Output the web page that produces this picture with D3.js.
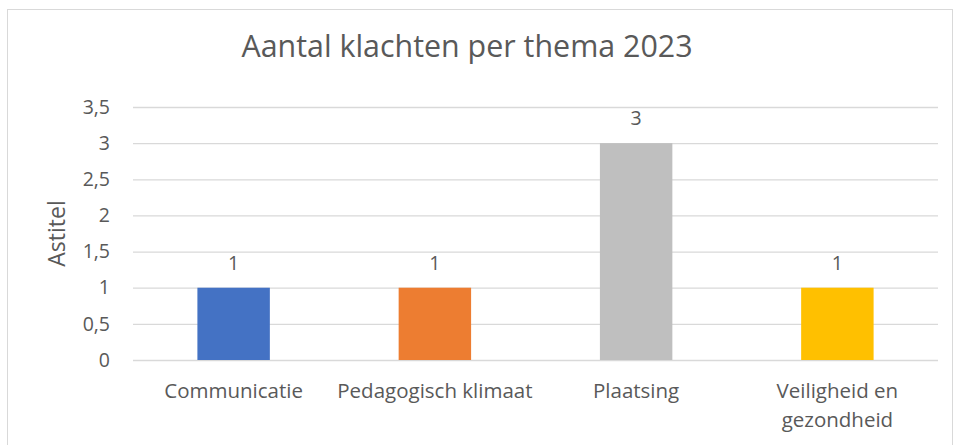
<!DOCTYPE html>
<html>
<head>
<meta charset="utf-8">
<script src="https://cdn.jsdelivr.net/npm/d3@7"></script>
<style>
  body { margin: 0; background: #fff; }
  svg text { font-family: "Open Sans", sans-serif; fill: #595959; }
</style>
</head>
<body>
<svg id="chart" width="954" height="445"></svg>
<script>
var categories = ["Communicatie", "Pedagogisch klimaat", "Plaatsing", "Veiligheid en gezondheid"];
var values = [1, 1, 3, 1];
var barColors = ["#4472C4", "#ED7D31", "#BFBFBF", "#FFC000"];
var yTicks = [0, 0.5, 1, 1.5, 2, 2.5, 3, 3.5];

var svg = d3.select("svg");
var margin = {top: 107, right: 16, bottom: 85, left: 133},
    width = 954 - margin.left - margin.right,
    height = 445 - margin.top - margin.bottom;

// chart frame
svg.append("rect")
  .attr("x", 7.5).attr("y", 9.5)
  .attr("width", 945).attr("height", 450)
  .attr("fill", "none").attr("stroke", "#d9d9d9");

var x = d3.scaleBand().domain(categories).range([0, width]).paddingInner(0.64).paddingOuter(0.32),
    y = d3.scaleLinear().domain([0, 3.5]).range([height, 0]);

var g = svg.append("g").attr("transform", "translate(" + margin.left + "," + margin.top + ")");

var fmt = function(d) { return String(d).replace(".", ","); };

// gridlines + tick labels
g.append("g")
  .call(d3.axisLeft(y).tickValues(yTicks).tickSize(-width).tickPadding(23).tickFormat(fmt))
  .call(function(a) {
    a.select(".domain").remove();
    a.selectAll("line").attr("stroke", "#d9d9d9").attr("stroke-width", 1.3);
    a.selectAll("text").style("font-size", "19.5px").style("fill", "#595959");
  });

g.selectAll(".bar")
  .data(values)
  .enter().append("rect")
    .attr("class", "bar")
    .attr("x", function(d, i) { return x(categories[i]); })
    .attr("y", function(d) { return y(d); })
    .attr("width", x.bandwidth())
    .attr("height", function(d) { return height - y(d); })
    .attr("fill", function(d, i) { return barColors[i]; });

g.selectAll(".lbl")
  .data(values)
  .enter().append("text")
    .attr("class", "lbl")
    .attr("x", function(d, i) { return x(categories[i]) + x.bandwidth() / 2; })
    .attr("y", function(d) { return y(d) - 18; })
    .attr("text-anchor", "middle")
    .style("font-size", "19.5px")
    .text(function(d) { return d; });

// category labels (wrap "Veiligheid en gezondheid")
var catLines = [["Communicatie"], ["Pedagogisch klimaat"], ["Plaatsing"], ["Veiligheid en", "gezondheid"]];
g.selectAll(".cat")
  .data(categories)
  .enter().append("text")
    .attr("class", "cat")
    .attr("text-anchor", "middle")
    .attr("transform", function(d) { return "translate(" + (x(d) + x.bandwidth() / 2) + "," + (height + 38) + ")"; })
    .style("font-size", "20.5px")
    .each(function(d, i) {
      var t = d3.select(this);
      catLines[i].forEach(function(line, k) {
        t.append("tspan").attr("x", 0).attr("dy", k === 0 ? 0 : 29).text(line);
      });
    });

svg.append("text")
  .attr("transform", "translate(65," + (margin.top + height / 2) + ") rotate(-90)")
  .attr("text-anchor", "middle")
  .style("font-size", "23px")
  .text("Astitel");

svg.append("text")
  .attr("x", 467).attr("y", 57)
  .attr("text-anchor", "middle")
  .style("font-size", "30.4px")
  .text("Aantal klachten per thema 2023");
</script>
</body>
</html>
